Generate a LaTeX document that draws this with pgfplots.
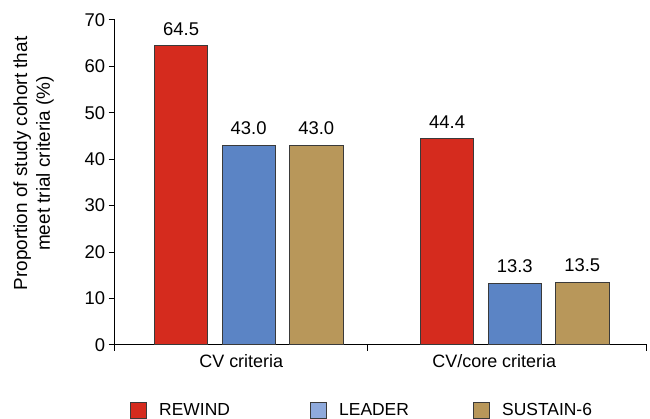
\documentclass[border=0pt]{standalone}
\usepackage{fontspec}
\setmainfont{Liberation Sans}
\usepackage{pgfplots}
\pgfplotsset{compat=1.18}
\definecolor{cred}{HTML}{D52B1E}
\definecolor{cblue}{HTML}{5B84C5}
\definecolor{cgold}{HTML}{B8975A}
\definecolor{lblue}{HTML}{8FAADC}
\definecolor{edge}{HTML}{3A3A3A}
\begin{document}
\begin{tikzpicture}
\begin{axis}[name=ax, scale only axis, width=534bp, height=326bp,
  xmin=-0.504, xmax=1.496, ymin=0, ymax=70,
  axis x line=bottom, axis y line=left,
  axis line style={-, line width=0.9bp, black},
  tick align=outside, major tick length=6bp,
  ytick={0,10,...,70},
  y tick style={line width=0.9bp, black},
  /pgf/number format/assume math mode=true,
  yticklabel style={font=\fontsize{18.5bp}{22bp}\selectfont},
  xtick={-0.028,0.923}, xticklabels={CV criteria, CV/core criteria},
  x tick style={draw=none},
  xticklabel style={font=\fontsize{18bp}{22bp}\selectfont},
  extra x ticks={-0.504,0.448,1.496}, extra x tick labels={},
  extra x tick style={x tick style={draw=black, line width=0.9bp}},
  ylabel={\begin{tabular}{@{}c@{}}Proportion of study cohort that\\meet trial criteria (\%)\end{tabular}},
  ylabel style={font=\fontsize{19bp}{23bp}\selectfont, inner sep=0pt,
    at={(axis description cs:0,0.558)}, anchor=center, yshift=81bp},
  nodes near coords style={font=\fontsize{18.5bp}{22bp}\selectfont, anchor=south, inner sep=0pt, yshift=10bp,
    /pgf/number format/.cd, fixed, fixed zerofill, precision=1},
  legend columns=3,
  legend style={draw=none, fill=none, inner sep=0pt, at={(0,0)}, anchor=west,
    xshift=15bp, yshift=-66bp, font=\fontsize{17.5bp}{20bp}\selectfont,
    nodes={inner sep=0pt},
    /tikz/every odd column/.style={column sep=13bp}},
]
% REWIND
\addplot[ybar, bar width=0.2, bar shift=0, fill=cred, draw=edge, line width=0.6bp, nodes near coords, forget plot]
  coordinates {(-0.254,64.5) (0.746,44.4)};
% LEADER
\addplot[ybar, bar width=0.2, bar shift=0, fill=cblue, draw=edge, line width=0.6bp, nodes near coords, forget plot]
  coordinates {(0,43.0) (1,13.3)};
% SUSTAIN-6
\addplot[ybar, bar width=0.2, bar shift=0, fill=cgold, draw=edge, line width=0.6bp, nodes near coords, forget plot]
  coordinates {(0.254,43.0) (1.254,13.5)};
\addlegendimage{legend image code/.code={\draw[fill=cred,draw=edge,line width=0.6bp] (0bp,-8bp) rectangle (16bp,8bp);}}
\addlegendentry{\makebox[151bp][l]{REWIND}}
\addlegendimage{legend image code/.code={\draw[fill=lblue,draw=edge,line width=0.6bp] (0bp,-8bp) rectangle (16bp,8bp);}}
\addlegendentry{\makebox[134bp][l]{LEADER}}
\addlegendimage{legend image code/.code={\draw[fill=cgold,draw=edge,line width=0.6bp] (0bp,-8bp) rectangle (16bp,8bp);}}
\addlegendentry{SUSTAIN-6}
\end{axis}
\path ([shift={(-115bp,-74bp)}]ax.south west) rectangle ([shift={(1bp,20bp)}]ax.north east);
\end{tikzpicture}
\end{document}
